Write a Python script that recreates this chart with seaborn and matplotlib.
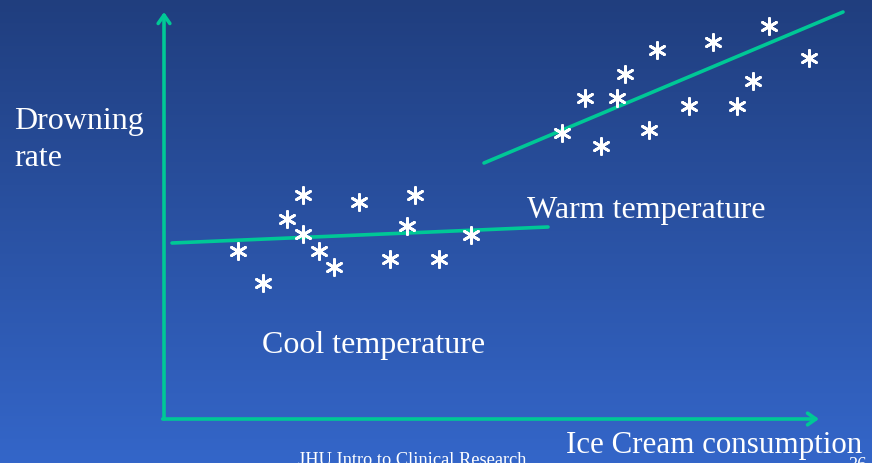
import numpy as np
import pandas as pd
import matplotlib
matplotlib.use("Agg")
import matplotlib.pyplot as plt
from matplotlib.colors import LinearSegmentedColormap
import seaborn as sns

# Ice cream consumption vs drowning rate, split by temperature
cool_x = [7.4, 9.9, 12.3, 13.9, 13.9, 15.5, 17.0, 19.5, 22.6, 25.1, 24.3, 27.5, 30.7]
cool_y = [16.8, 13.6, 20.0, 22.4, 18.5, 16.8, 15.2, 21.7, 16.0, 22.4, 19.3, 16.0, 18.4]
warm_x = [39.8, 42.1, 43.7, 45.3, 46.1, 48.5, 49.3, 52.5, 54.9, 57.3, 58.9, 60.5, 64.5]
warm_y = [28.6, 32.1, 27.3, 32.1, 34.5, 28.9, 36.9, 31.3, 37.7, 31.3, 33.8, 39.3, 36.1]

# Trend line end points for each group
cool_line_x = [0.8, 38.4]
cool_line_y = [17.6, 19.2]
warm_line_x = [32.0, 67.9]
warm_line_y = [25.6, 40.7]

x_label = "Ice Cream consumption"
y_label_lines = ["Drowning", "rate"]
cool_label = "Cool temperature"
warm_label = "Warm temperature"
footer = "JHU Intro to Clinical Research"
page_no = "36"

points = pd.DataFrame({
    "consumption": cool_x + warm_x,
    "rate": cool_y + warm_y,
    "group": ["cool"] * len(cool_x) + ["warm"] * len(warm_x),
})
lines = pd.DataFrame({
    "consumption": cool_line_x + warm_line_x,
    "rate": cool_line_y + warm_line_y,
    "group": ["cool"] * 2 + ["warm"] * 2,
})

sns.set_theme(style="white")
plt.rcParams["font.family"] = ["Liberation Serif", "DejaVu Serif"]

GREEN = "#00c896"
XLIM = (-16.4, 70.8)
YLIM = (-4.4, 42.0)

fig = plt.figure(figsize=(8.72, 4.64), dpi=100)
ax = fig.add_axes([0, 0, 1, 1])

# Slide background: vertical blue gradient
grad = np.linspace(0, 1, 256).reshape(-1, 1)
cmap = LinearSegmentedColormap.from_list("bg", ["#203e7e", "#3466c9"])
ax.imshow(grad, extent=(*XLIM, *YLIM), aspect="auto",
          cmap=cmap, origin="upper", zorder=0)

# Axis arrows
arrow = dict(arrowstyle="->,head_length=0.5,head_width=0.35", color=GREEN, lw=2.6,
             shrinkA=0, shrinkB=0)
ax.annotate("", xy=(0, 40.7), xytext=(0, 0), arrowprops=arrow, zorder=2)
ax.annotate("", xy=(65.5, 0), xytext=(-0.13, 0), arrowprops=arrow, zorder=2)

sns.lineplot(data=lines, x="consumption", y="rate", units="group", estimator=None,
             color=GREEN, lw=2.6, ax=ax, zorder=3, legend=False)
sns.scatterplot(data=points, x="consumption", y="rate", marker=(6, 2, 0), s=135,
                color="white", edgecolor="white", linewidth=2.0, ax=ax, zorder=4,
                legend=False)
ax.set_xlim(*XLIM)
ax.set_ylim(*YLIM)
ax.axis("off")

ax.text(-15.0, 29.1, y_label_lines[0], fontsize=23, color="white", ha="left", va="baseline")
ax.text(-15.0, 25.4, y_label_lines[1], fontsize=23, color="white", ha="left", va="baseline")
ax.text(36.3, 20.2, warm_label, fontsize=23, color="white", ha="left", va="baseline")
ax.text(9.8, 6.7, cool_label, fontsize=23, color="white", ha="left", va="baseline")
ax.text(40.2, -3.3, x_label, fontsize=22.3, color="white", ha="left", va="baseline")
ax.text(13.4, -4.55, footer, fontsize=13.2, color="white", ha="left", va="baseline")
ax.text(68.4, -5.0, page_no, fontsize=13.2, color="white", ha="left", va="baseline")

fig.savefig("out.png", dpi=100)
